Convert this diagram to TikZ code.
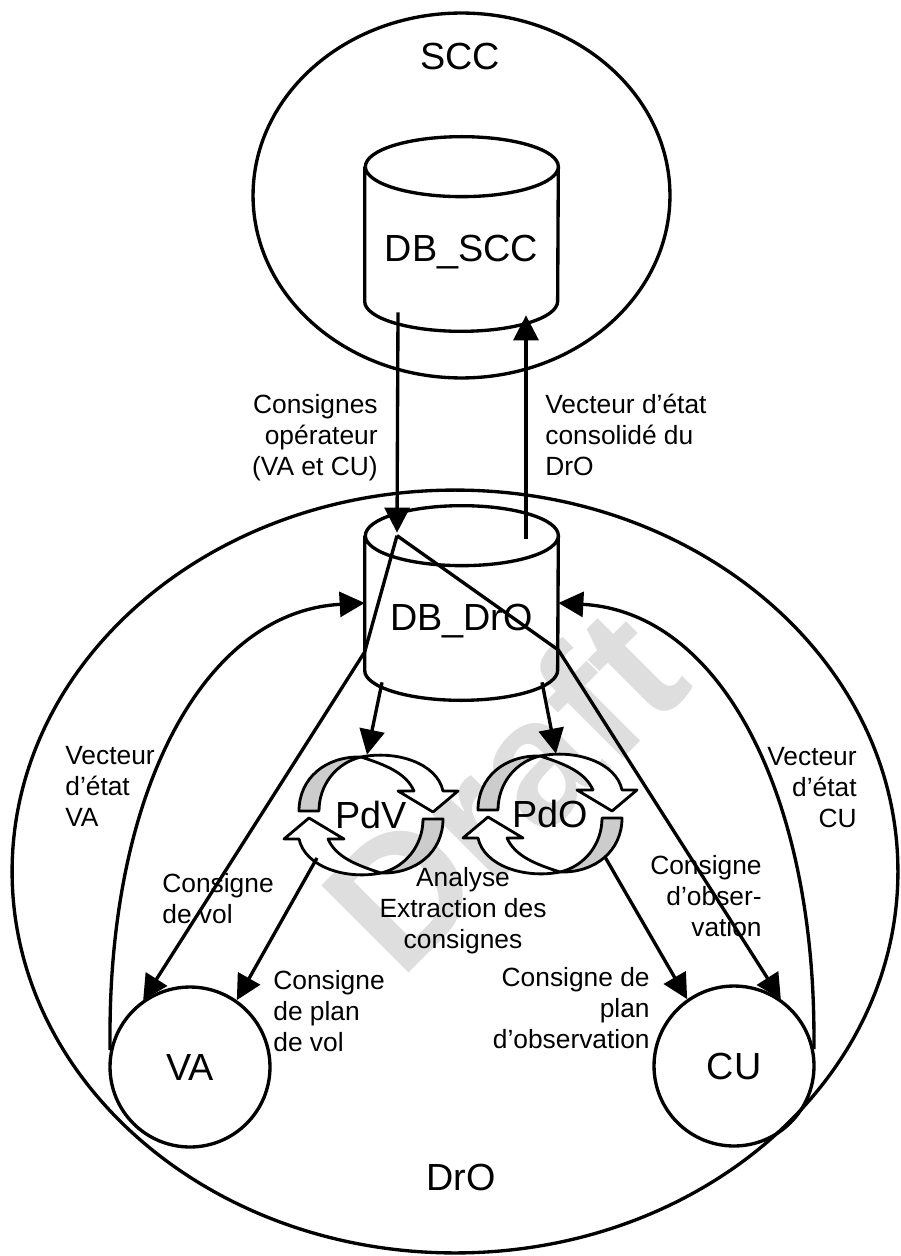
\documentclass[tikz,border=0pt]{standalone}
\usepackage{fontspec}
\setmainfont{Liberation Sans}
\usepackage{xcolor}
\usepackage{tikz}
\usetikzlibrary{shapes.geometric, arrows.meta, positioning, calc}
\definecolor{draftgray}{HTML}{DEDEDE}
\definecolor{cyclegray}{HTML}{CCCCCC}
\newcommand{\namefont}{\fontsize{21.5}{25}\selectfont}
\newcommand{\notefont}{\fontsize{15}{17.6}\selectfont}
\tikzstyle{zone} = [ellipse, draw, line width=1.9pt, inner sep=0pt]
\tikzstyle{actor} = [circle, draw, line width=1.9pt, minimum size=3.2cm, inner sep=0pt, font=\namefont]
\tikzstyle{dbbody} = [rectangle, minimum width=3.86cm, minimum height=2.68cm, inner sep=0pt]
\tikzstyle{dbline} = [line width=1.9pt]
\tikzstyle{loopnode} = [circle, minimum size=2.4cm, inner sep=0pt, font=\namefont]
\tikzstyle{bigtext} = [font=\namefont, inner sep=0pt]
\tikzstyle{note} = [font=\notefont, inner sep=0pt]
\tikzstyle{arrow} = [line width=1.9pt, -{Triangle[length=0.5cm, width=0.5cm]}]
\tikzset{
  halfcycle/.pic={
    \filldraw[fill=cyclegray, draw=black, line width=1.6pt, line join=round]
      (-72,-4) .. controls (-72,-37) and (-45,-59) .. (-10,-58)
      .. controls (-35,-52) and (-52,-30) .. (-52,-4) -- cycle;
    \filldraw[fill=white, draw=black, line width=1.6pt, line join=round]
      (-10,-58) .. controls (25,-65) and (66,-52) .. (72,-24)
      -- (87,-24) -- (62,-3) -- (27,-24) -- (43,-24)
      .. controls (35,-42) and (15,-50) .. (-10,-58) -- cycle;
  }
}

\begin{document}
\begin{tikzpicture}[x=0.02cm, y=-0.02cm]
  \useasboundingbox (0,0) rectangle (900,1256);

  % watermark
  \node[rotate=45, anchor=base west, inner sep=0pt, text=draftgray,
    font=\fontsize{102}{102}\selectfont\bfseries] (draft) at (400,982) {Draft};

  % zones
  \node (scc) [zone, minimum width=8.34cm, minimum height=7.3cm] at (461.5,195.5) {};
  \node (dro) [zone, minimum width=17.72cm, minimum height=15.26cm] at (455,871.5) {};
  \node (scclbl) [bigtext] at (460,57) {SCC};
  \node (drolbl) [bigtext] at (461,1177) {DrO};

  % databases
  \node (dbscc) [dbbody] at (461.5,234) {};
  \draw[dbline] (dbscc.north west) -- (dbscc.south west)
    arc[start angle=180, end angle=360, x radius=1.93cm, y radius=0.6cm]
    -- (dbscc.north east)
    arc[start angle=0, end angle=360, x radius=1.93cm, y radius=0.6cm];
  \node (dbscclbl) [bigtext, anchor=base] at (461.5,262) {DB\_SCC};

  \node (dbdro) [dbbody] at (461.5,603) {};
  \draw[dbline] (dbdro.north west) -- (dbdro.south west)
    arc[start angle=180, end angle=360, x radius=1.93cm, y radius=0.6cm]
    -- (dbdro.north east)
    arc[start angle=0, end angle=360, x radius=1.93cm, y radius=0.6cm];
  \node (dbdrolbl) [bigtext, anchor=base] at (461.5,630) {DB\_DrO};

  % processes
  \node (pdv) [loopnode] at (371,815) {PdV};
  \node (pdo) [loopnode] at (550,814) {PdO};
  \pic at (pdv) {halfcycle};
  \pic[rotate=180] at (pdv) {halfcycle};
  \pic at (pdo) {halfcycle};
  \pic[rotate=180] at (pdo) {halfcycle};

  % vehicles
  \node (va) [actor] at (190,1067) {VA};
  \node (cu) [actor] at (734,1066) {CU};

  % flows
  \draw[arrow] ($(dbscc.south)+(-63.5,11)$) -- ($(dbdro.north)+(-64.5,-3)$);
  \draw[arrow] ($(dbdro.north)+(64.5,3)$) -- ($(dbscc.south)+(64.5,14)$);
  \draw[arrow] ($(dbdro.north)+(-64.5,0)$) -- ($(dbdro.west)+(0,49)$) -- (va.125);
  \draw[arrow] ($(dbdro.north)+(-64.5,0)$) -- ($(dbdro.east)+(0,47)$) -- (cu.55);
  \draw[arrow] ($(dbdro.south)+(-79.5,12)$) -- ($(pdv.north)+(-4,0)$);
  \draw[arrow] ($(dbdro.south)+(80.5,12)$) -- ($(pdo.north)+(6,0)$);
  \draw[arrow] ($(pdv.center)+(-54,43)$) -- (va.55);
  \draw[arrow] ($(pdo.center)+(55,43)$) -- (cu.125);
  \draw[arrow] (va.168) .. controls (106,800) and (200,612) .. (dbdro.west);
  \draw[arrow] (cu.12) .. controls (817,800) and (723,612) .. (dbdro.east);

  % flow labels
  \node (lconsop) [note, anchor=north east, align=right] at (378,394) {Consignes\\opérateur\\(VA et CU)};
  \node (lvectdro) [note, anchor=north west, align=left] at (545,394) {Vecteur d’état\\consolidé du\\DrO};
  \node (lvectva) [note, anchor=north west, align=left] at (65,746) {Vecteur\\d’état\\VA};
  \node (lvectcu) [note, anchor=north east, align=right] at (857,747) {Vecteur\\d’état\\CU};
  \node (lconsvol) [note, anchor=north west, align=left] at (162,873) {Consigne\\de vol};
  \node (lanalyse) [note, anchor=north, align=center] at (463,867) {Analyse\\Extraction des\\consignes};
  \node (lconsobs) [note, anchor=north east, align=right] at (762,855) {Consigne\\d’obser-\\vation};
  \node (lplanvol) [note, anchor=north west, align=left] at (273,970) {Consigne\\de plan\\de vol};
  \node (lplanobs) [note, anchor=north east, align=right] at (650,967) {Consigne de\\plan\\d’observation};
\end{tikzpicture}
\end{document}
